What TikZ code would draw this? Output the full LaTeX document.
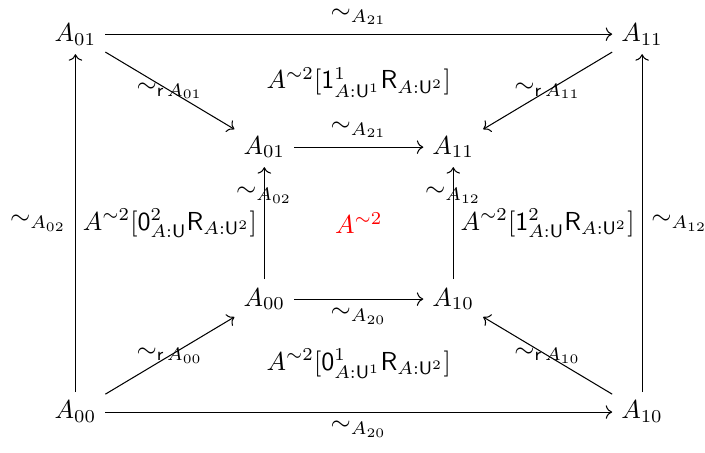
\documentclass[tikz,border=0pt]{standalone}
\usepackage{amsmath}
\usepackage{amssymb}
\usetikzlibrary{arrows.meta, positioning, calc}

\begin{document}
\begin{tikzpicture}[
    node distance=1.527cm and 2.553cm, on grid,
    arrow/.style={-{To}, draw=black},
    face/.style={align=center}
]
    \useasboundingbox (-1.02,-0.54) rectangle (8.51,5.57);

    \node (out00) at (0,0) {$A_{00}$};
    \node (out10) [right=7.66cm of out00] {$A_{10}$};
    \node (in00) [above right=of out00] {$A_{00}$};
    \node (in10) [above left=of out10] {$A_{10}$};
    \node (in01) [above=2.054cm of in00] {$A_{01}$};
    \node (in11) [above=2.054cm of in10] {$A_{11}$};
    \node (out01) [above left=of in01] {$A_{01}$};
    \node (out11) [above right=of in11] {$A_{11}$};

    \node (core) [red] at ($(in00)!0.5!(in11)$) {$A^{\sim 2}$};
    \node (topface) [face, above=1.9cm of core] {$A^{\sim 2}[\mathsf{1}^1_{A:\mathsf{U}^1}\mathsf{R}_{A:\mathsf{U}^2}]$};
    \node (botface) [face, below=1.9cm of core] {$A^{\sim 2}[\mathsf{0}^1_{A:\mathsf{U}^1}\mathsf{R}_{A:\mathsf{U}^2}]$};
    \node (leftface) [face, left=2.553cm of core] {$A^{\sim 2}[\mathsf{0}^2_{A:\mathsf{U}}\mathsf{R}_{A:\mathsf{U}^2}]$};
    \node (rightface) [face, right=2.553cm of core] {$A^{\sim 2}[\mathsf{1}^2_{A:\mathsf{U}}\mathsf{R}_{A:\mathsf{U}^2}]$};

    \draw [arrow] (out01) -- node[above] {$\sim_{A_{21}}$} (out11);
    \draw [arrow] (in01) -- node[above] {$\sim_{A_{21}}$} (in11);
    \draw [arrow] (in00) -- node[below] {$\sim_{A_{20}}$} (in10);
    \draw [arrow] (out00) -- node[below] {$\sim_{A_{20}}$} (out10);

    \draw [arrow] (out00) -- node[left] {$\sim_{A_{02}}$} (out01);
    \draw [arrow] (out10) -- node[right] {$\sim_{A_{12}}$} (out11);
    \draw [arrow] (in00) -- node[near end] {$\sim_{A_{02}}$} (in01);
    \draw [arrow] (in10) -- node[near end] {$\sim_{A_{12}}$} (in11);

    \draw [arrow] (out01) -- node {$\sim_{\mathsf{r}\,A_{01}}$} (in01);
    \draw [arrow] (out11) -- node {$\sim_{\mathsf{r}\,A_{11}}$} (in11);
    \draw [arrow] (out00) -- node {$\sim_{\mathsf{r}\,A_{00}}$} (in00);
    \draw [arrow] (out10) -- node {$\sim_{\mathsf{r}\,A_{10}}$} (in10);
\end{tikzpicture}
\end{document}
